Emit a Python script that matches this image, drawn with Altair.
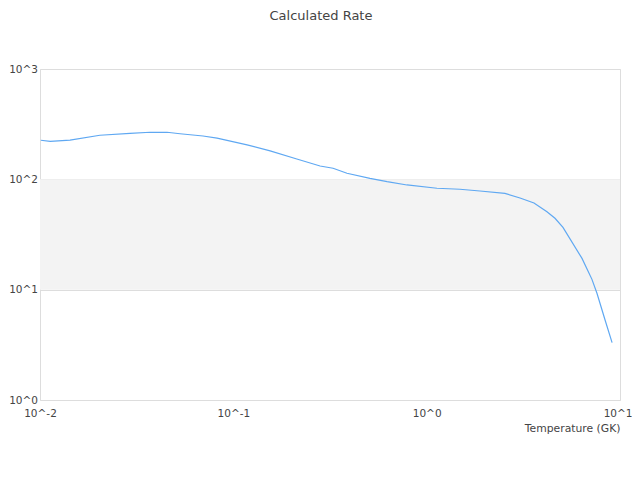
import altair as alt
import pandas as pd

temperature = [0.0101, 0.0113, 0.0143, 0.0204, 0.0292, 0.0371, 0.0454, 0.053, 0.0697,
               0.0824, 0.1178, 0.155, 0.213, 0.281, 0.328, 0.387, 0.509, 0.624, 0.791,
               1.13, 1.486, 1.887, 2.54, 3.04, 3.59, 4.19, 4.61, 5.07, 6.36, 7.16, 7.6,
               8.37, 9.1]
rate = [226, 221, 227, 251, 261, 267, 267, 259, 247,
        236, 205, 181, 153, 132, 126, 113.5, 102, 95.2, 88.9,
        83.0, 81.3, 78.4, 74.7, 67.7, 61.0, 50.9, 44.4, 36.7, 19.2, 12.4, 9.27,
        5.31, 3.31]

x_ticks = [0.01, 0.1, 1, 10]
y_ticks = [1, 10, 100, 1000]
band_lo = [10]
band_hi = [100]

df = pd.DataFrame({"T": temperature, "R": rate})
band = pd.DataFrame({"lo": band_lo, "hi": band_hi})

label_expr = "'10^' + round(log(datum.value)/LN10)"

xscale = alt.Scale(type="log", domain=[x_ticks[0], x_ticks[-1]], nice=False)
yscale = alt.Scale(type="log", domain=[y_ticks[0], y_ticks[-1]], nice=False)

band_layer = alt.Chart(band).mark_rect(color="#f3f3f3").encode(
    y=alt.Y("lo:Q", scale=yscale),
    y2="hi:Q",
)

line = alt.Chart(df).mark_line(color="#5fa8f2", strokeWidth=1.2).encode(
    x=alt.X("T:Q", scale=xscale,
            axis=alt.Axis(values=x_ticks, labelExpr=label_expr, title="Temperature (GK)",
                          grid=False, ticks=False, domain=False, labelPadding=8.5,
                          labelAlign=alt.condition("datum.value >= 9.99", alt.value("right"), alt.value("center")),
                          labelOffset=alt.condition("datum.value >= 9.99", alt.value(12), alt.value(0)),
                          labelFontSize=10.5, labelColor="#444", labelFont="DejaVu Sans",
                          titleFont="DejaVu Sans", titleFontSize=10.8, titleFontWeight="normal",
                          titleColor="#444", titleAnchor="end", titleAlign="right",
                          titlePadding=3.5, labelFlush=False, labelOverlap=False)),
    y=alt.Y("R:Q", scale=yscale,
            axis=alt.Axis(values=y_ticks, labelExpr=label_expr, title=None,
                          grid=True, gridColor="#dddddd", ticks=False, domain=False,
                          labelPadding=2.5, labelFontSize=10.5, labelColor="#444",
                          labelFont="DejaVu Sans", labelOverlap=False)),
)

chart = alt.layer(band_layer, line).properties(
    width=580,
    height=331,
    title=alt.TitleParams("Calculated Rate", font="DejaVu Sans", fontSize=13,
                          fontWeight="normal", color="#444", offset=41, dx=-9),
    autosize=alt.AutoSizeParams(type="none"),
    padding={"left": 32, "top": 61, "right": 12, "bottom": 50},
).configure_view(stroke="#dddddd", strokeWidth=1)

chart.save("out.html", embed_options={"renderer": "svg", "actions": False})
